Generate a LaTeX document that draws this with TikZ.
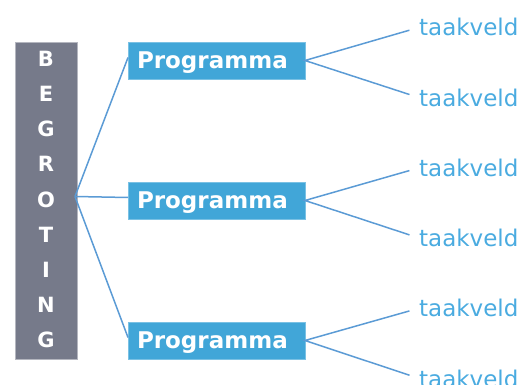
\documentclass[tikz,border=0pt]{standalone}
\usepackage{fontspec}
\setmainfont{DejaVu Sans}
\usetikzlibrary{positioning}
\definecolor{bargrey}{HTML}{767A8A}
\definecolor{progblue}{HTML}{41A6D8}
\definecolor{edgeblue}{HTML}{5B9BD5}
\definecolor{veldblue}{HTML}{4AABE0}
\tikzset{begroting_bar/.style={inner sep=0pt, outer sep=0pt, rectangle, minimum width=62pt, minimum height=317pt, fill=bargrey, draw=bargrey!55}}
\tikzset{bar_letter/.style={inner sep=0pt, text=white, font=\bfseries\fontsize{21}{24}\selectfont}}
\tikzset{programma_box/.style={anchor=west, inner xsep=9pt, inner ysep=0pt, outer sep=0pt, text width=159pt, minimum height=37pt, text depth=0pt, fill=progblue, draw=progblue!70, text=white, font=\bfseries\fontsize{23}{26}\selectfont}}
\tikzset{taakveld_label/.style={anchor=base west, inner sep=0pt, text=veldblue, font=\fontsize{23}{26}\selectfont}}
\tikzset{edge_color/.style={color=edgeblue, line width=1.5pt, opacity=1}}

\begin{document}
\begin{tikzpicture}[x=1pt,y=-1pt]
    \useasboundingbox (0,0) rectangle (531,385);
    \draw (46,200.5) node[begroting_bar](bar){};
    \foreach \l [count=\i from 0] in {B,E,G,R,O,T,I,N,G}
      \draw (46,59+\i*35.1) node[bar_letter](b\i){\l};
    \draw \foreach \x in {0,1,2}{(128,60.5+\x*140) coordinate(p\x)};
    \foreach \x in {0,1,2}
      \draw (p\x) node[programma_box](prog\x){Programma};
    \foreach \x in {0,...,5}
      \draw (419,36+\x*70.2) node[taakveld_label](t\x){taakveld};
    \coordinate (root) at ([xshift=-2pt,yshift=4pt]bar.east);
    \foreach \x in {0,1,2}
      \draw[edge_color] (root)--([yshift=3pt]prog\x.west);
    \foreach \x in {0,1,2}{
      \pgfmathtruncatemacro{\a}{2*\x}
      \pgfmathtruncatemacro{\b}{2*\x+1}
      \draw[edge_color,shorten <=10pt,shorten >=10pt] (t\a.west)--(prog\x.east)--(t\b.west);
    }
\end{tikzpicture}
\end{document}
